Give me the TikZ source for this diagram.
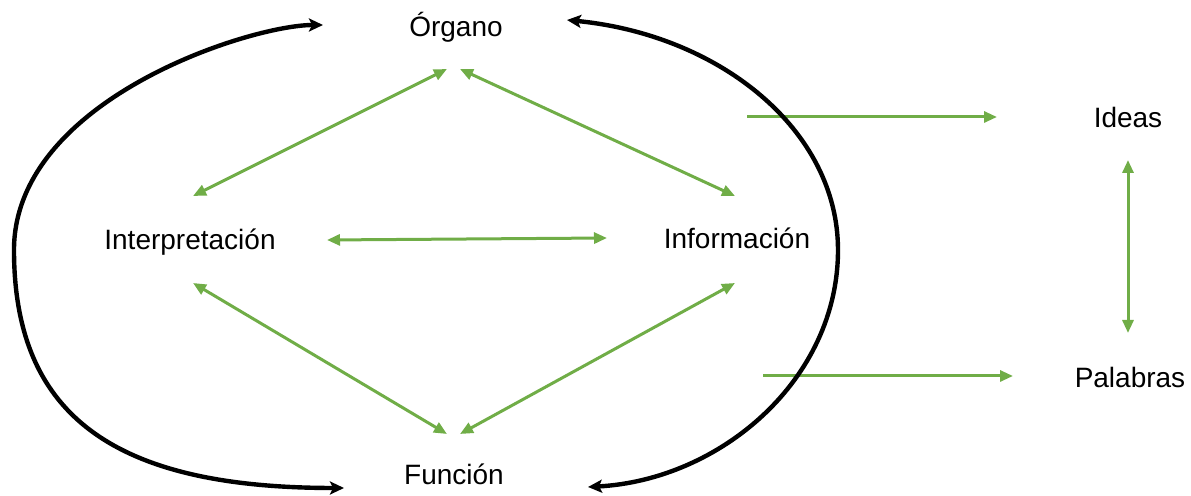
\documentclass[tikz,border=0pt]{standalone}
\usepackage{fontspec}
\setmainfont{Liberation Sans}
\usetikzlibrary{arrows.meta}
\definecolor{grn}{RGB}{112,173,71}
\begin{document}
\begin{tikzpicture}[x=0.5pt,y=-0.5pt,
  lbl/.style={anchor=base,inner sep=0pt,font=\fontsize{14pt}{16pt}\selectfont},
  garrow/.style={draw=grn,line width=1.5pt,{Triangle[length=6.5pt,width=5.5pt]}-{Triangle[length=6.5pt,width=5.5pt]}},
  gone/.style={draw=grn,line width=1.5pt,-{Triangle[length=6.5pt,width=5.5pt]}},
  barrow/.style={draw=black,line width=2.2pt,{Stealth[length=7pt,width=6.5pt,inset=1.5pt]}-{Stealth[length=7pt,width=6.5pt,inset=1.5pt]}}]
\useasboundingbox (0,0) rectangle (1191,496);
% texts
\node[lbl] (org) at (456,37) {Órgano};
\node[lbl] (int) at (190,250) {Interpretación};
\node[lbl] (inf) at (737,249) {Información};
\node[lbl] (fun) at (454,485) {Función};
\node[lbl] (ide) at (1128,128) {Ideas};
\node[lbl] (pal) at (1130,388) {Palabras};
% green endpoints
\coordinate (oL) at (447,69);
\coordinate (oR) at (460,69);
\coordinate (iT) at (193,196);
\coordinate (iB) at (193,283);
\coordinate (iR) at (327,240);
\coordinate (nT) at (735,196);
\coordinate (nB) at (735,283);
\coordinate (nL) at (607,238);
\coordinate (fL) at (447,434);
\coordinate (fR) at (460,434);
\coordinate (idS) at (747,117);
\coordinate (idE) at (997,117);
\coordinate (paS) at (763,376);
\coordinate (paE) at (1013,376);
\coordinate (ideB) at (1128,160);
\coordinate (palT) at (1128,333);
% black endpoints
\coordinate (lT) at (323,25);
\coordinate (lM) at (14,250);
\coordinate (lB) at (344,488);
\coordinate (rT) at (567,20);
\coordinate (rM) at (838,250);
\coordinate (rB) at (588,487);
% green arrows
\draw[garrow] (oL) -- (iT);
\draw[garrow] (oR) -- (nT);
\draw[garrow] (iR) -- (nL);
\draw[garrow] (iB) -- (fL);
\draw[garrow] (fR) -- (nB);
\draw[garrow] (ideB) -- (palT);
\draw[gone] (idS) -- (idE);
\draw[gone] (paS) -- (paE);
% black curves
\draw[barrow] (lT) .. controls (250,25) and (14,100) .. (lM) .. controls (14,420) and (120,488) .. (lB);
\draw[barrow] (rT) .. controls (720,35) and (838,130) .. (rM) .. controls (838,380) and (720,480) .. (rB);
\end{tikzpicture}
\end{document}
